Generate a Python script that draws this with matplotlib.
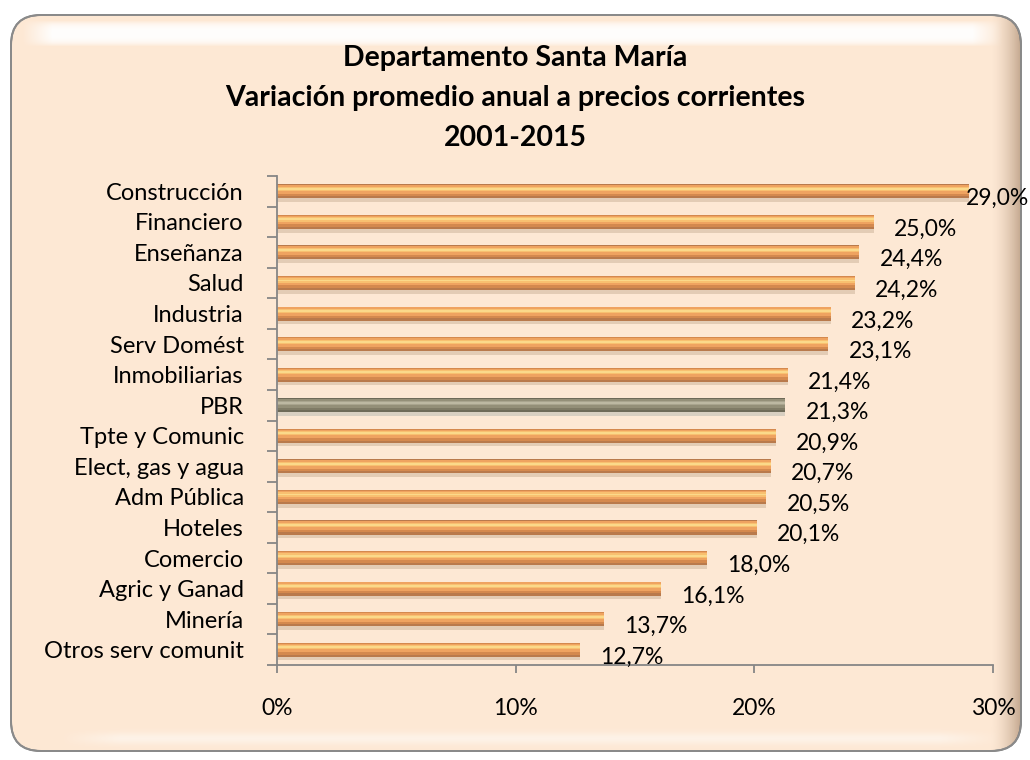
import matplotlib
matplotlib.use("Agg")
import matplotlib.pyplot as plt
from matplotlib.patches import FancyBboxPatch
from matplotlib.ticker import FixedLocator
import numpy as np

categories = ["Construcción", "Financiero", "Enseñanza", "Salud", "Industria",
              "Serv Domést", "Inmobiliarias", "PBR", "Tpte y Comunic",
              "Elect, gas y agua", "Adm Pública", "Hoteles", "Comercio",
              "Agric y Ganad", "Minería", "Otros serv comunit"]
values = [29.0, 25.0, 24.4, 24.2, 23.2, 23.1, 21.4, 21.3, 20.9, 20.7, 20.5,
          20.1, 18.0, 16.1, 13.7, 12.7]
x_ticks = [0, 10, 20, 30]
x_tick_labels = ["0%", "10%", "20%", "30%"]
title_lines = ["Departamento Santa María",
               "Variación promedio anual a precios corrientes",
               "2001-2015"]

plt.rcParams['font.family'] = ['Lato', 'DejaVu Sans']

W, H = 1030, 760
fig = plt.figure(figsize=(W / 100, H / 100), dpi=100)
fig.patch.set_facecolor("white")

# ---- background frame (pixel coordinates) ----
bg = fig.add_axes([0, 0, 1, 1], zorder=-5)
bg.set_xlim(0, W)
bg.set_ylim(H, 0)
bg.axis("off")
fx0, fy0, fx1, fy1 = 11, 15, 1021, 751
frame = FancyBboxPatch((fx0, fy0), fx1 - fx0, fy1 - fy0,
                       boxstyle="round,pad=0,rounding_size=30",
                       facecolor="#FDE8D4", edgecolor="#8A8A8A",
                       linewidth=1.4, zorder=0)
bg.add_patch(frame)

# shading overlay: darker toward right edge, white glow at top, soft at bottom
xs = np.arange(W)[None, :]
ys = np.arange(H)[:, None]
rgba = np.zeros((H, W, 4))
dark = np.clip((xs - 990) / 32.0, 0, 1) ** 1.6 * 0.45
dark = np.broadcast_to(dark, (H, W))
top_prof = np.clip(1 - np.abs((ys - 33.0) / 13.0) ** 3, 0, 1)
top_glow = top_prof * np.clip((xs - 22) / 30, 0, 1) * np.clip((1002 - xs) / 30, 0, 1)
bot_glow = np.exp(-((ys - 738) / 6.0) ** 2) * np.clip((xs - 60) / 60, 0, 1) * np.clip((1000 - xs) / 60, 0, 1) * 0.45
glow = np.clip(top_glow * 0.95 + bot_glow, 0, 1)
glow = np.broadcast_to(glow, (H, W))
alpha = np.clip(glow + dark, 0, 1)
wsum = np.where(alpha > 0, glow / np.maximum(glow + dark, 1e-9), 0)
base_dark = np.array([0.45, 0.30, 0.18])
col = wsum[..., None] * np.array([1.0, 1.0, 1.0]) + (1 - wsum[..., None]) * base_dark
rgba[..., :3] = col
rgba[..., 3] = alpha
im = bg.imshow(rgba, extent=(0, W, H, 0), zorder=1, interpolation="bilinear")
im.set_clip_path(frame)
bg.set_xlim(0, W)
bg.set_ylim(H, 0)
edge = FancyBboxPatch((fx0, fy0), fx1 - fx0, fy1 - fy0,
                      boxstyle="round,pad=0,rounding_size=30",
                      facecolor="none", edgecolor="#8A8A8A",
                      linewidth=1.4, zorder=2)
bg.add_patch(edge)

# ---- chart ----
ax = fig.add_axes([0.2689, 0.125, 0.6951, 0.6434])
ax.set_facecolor("none")
n = len(categories)
ypos = np.arange(n)

orange_layers = [("#E3CCB5", 0.50, 0.10),  # shadow
                 ("#B97A4C", 0.46, 0.0),
                 ("#D4894E", 0.38, -0.03),
                 ("#EFA360", 0.28, -0.06),
                 ("#F8C070", 0.14, -0.08),
                 ("#FBD98A", 0.06, -0.08)]
grey_layers = [("#D8CFC1", 0.50, 0.10),
               ("#6E6A58", 0.46, 0.0),
               ("#807B66", 0.38, -0.03),
               ("#948F78", 0.28, -0.06),
               ("#A9A48E", 0.14, -0.08),
               ("#BDB8A2", 0.06, -0.08)]
for i, (cat, v) in enumerate(zip(categories, values)):
    layers = grey_layers if cat == "PBR" else orange_layers
    for color, h, off in layers:
        ax.barh(i + off, v, height=h, color=color, edgecolor="none", zorder=2)

for i, v in enumerate(values):
    x = min(v + 0.85, 28.85)
    ax.text(x, i + 0.24, f"{v:.1f}%".replace(".", ","), ha="left", va="center",
            fontsize=16.5, color="black", zorder=5)

ax.set_xlim(0, 30)
ax.set_ylim(n - 0.5, -0.5)
ax.set_yticks(ypos)
ax.set_yticklabels(categories, fontsize=17)
ax.yaxis.set_minor_locator(FixedLocator(np.arange(-0.5, n, 1.0)))
ax.tick_params(axis="y", which="major", length=0, pad=24)
ax.tick_params(axis="y", which="minor", length=7, color="#868686", width=1.3)
ax.set_xticks(x_ticks)
ax.set_xticklabels(x_tick_labels, fontsize=16.5)
ax.tick_params(axis="x", which="major", length=6, color="#868686", width=1.3, pad=18)
for s in ["top", "right"]:
    ax.spines[s].set_visible(False)
for s in ["left", "bottom"]:
    ax.spines[s].set_color("#868686")
    ax.spines[s].set_linewidth(1.3)

for k, line in enumerate(title_lines):
    fig.text(0.5, 1 - (58 + 40 * k) / 760, line, ha="center", va="center",
             fontsize=20.5, fontweight="bold")

fig.savefig("out.png", dpi=100)
